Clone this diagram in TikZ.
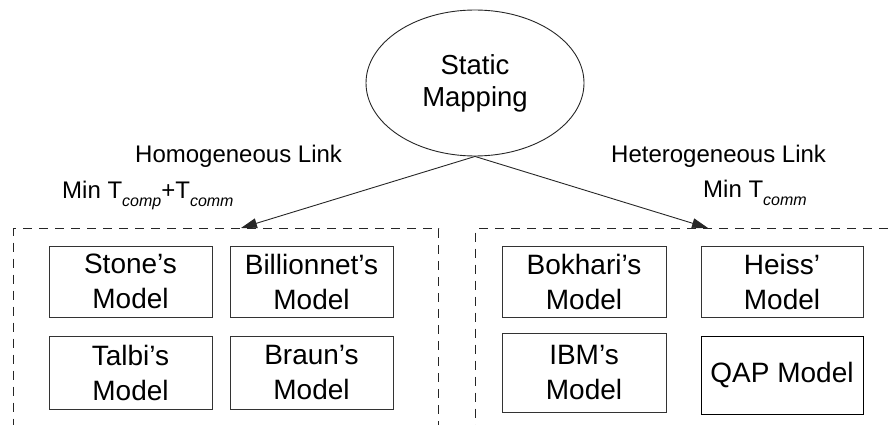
\documentclass[tikz,border=0pt]{standalone}
\usepackage{fontspec}
\setmainfont{Liberation Sans}
\usetikzlibrary{shapes.geometric,arrows.meta}
% italic subscript, set a little below the baseline
\newcommand\lowsub[1]{\raisebox{-8pt}{\fontsize{16}{16}\selectfont\itshape #1}}
\begin{document}
\begin{tikzpicture}[x=1pt,y=-1pt,
  model/.style={draw=black!80,line width=0.9pt,minimum width=163pt,minimum height=71pt,
    inner sep=0pt,align=center,font=\fontsize{28}{35}\selectfont},
  group/.style={draw=black!85,line width=1pt,dash pattern=on 9pt off 7pt,
    inner sep=0pt,anchor=north west,minimum height=240pt},
  lbl/.style={anchor=base west,inner sep=0pt,font=\fontsize{24}{29}\selectfont},
  link/.style={-{Triangle[length=16pt,width=10pt]},line width=0.9pt,draw=black!85}]
\useasboundingbox (0,0) rectangle (891,425);
\clip (0,0) rectangle (891,425);

% root
\node[ellipse,draw=black!85,line width=0.9pt,minimum width=218pt,minimum height=146pt,
  inner sep=0pt,align=center,font=\fontsize{27.5}{32}\selectfont] (sm) at (475,83) {Static\\Mapping};

% the two groups (open at the bottom of the page)
\node[group,minimum width=425pt] (homog) at (13,228) {};
\node[group,minimum width=430pt] (heterog) at (475,228) {};

% link labels
\node[lbl] (homl) at (135,162) {Homogeneous Link};
\node[lbl] (homc) at (62,198) {Min T\lowsub{comp}+T\lowsub{comm}};
\node[lbl] (hetl) at (611,162) {Heterogeneous Link};
\node[lbl] (hetc) at (703,197) {Min T\lowsub{comm}};

% arrows onto the group frames
\coordinate (lt) at (241,228);
\coordinate (rt) at (708,228);
\draw[link] (sm.south) -- (lt);
\draw[link] (sm.south) -- (rt);

% homogeneous models
\node[model] (stone) at (130.5,281.5) {Stone’s\\Model};
\node[model] (bill) at (311.5,281.5) {Billionnet’s\\Model};
\node[model,minimum height=73pt] (talbi) at (130.5,372.5) {Talbi’s\\Model};
\node[model,minimum height=73pt] (braun) at (311.5,372.5) {Braun’s\\Model};

% heterogeneous models
\node[model,minimum width=164pt] (bokh) at (584,281.5) {Bokhari’s\\Model};
\node[model,minimum width=162pt] (heiss) at (782,281.5) {Heiss’\\Model};
\node[model,minimum width=164pt,minimum height=79pt] (ibm) at (584,372.5) {IBM’s\\Model};
\node[model,minimum width=162pt,minimum height=78pt,draw=black] (qap) at (782,375) {QAP Model};
\end{tikzpicture}
\end{document}
